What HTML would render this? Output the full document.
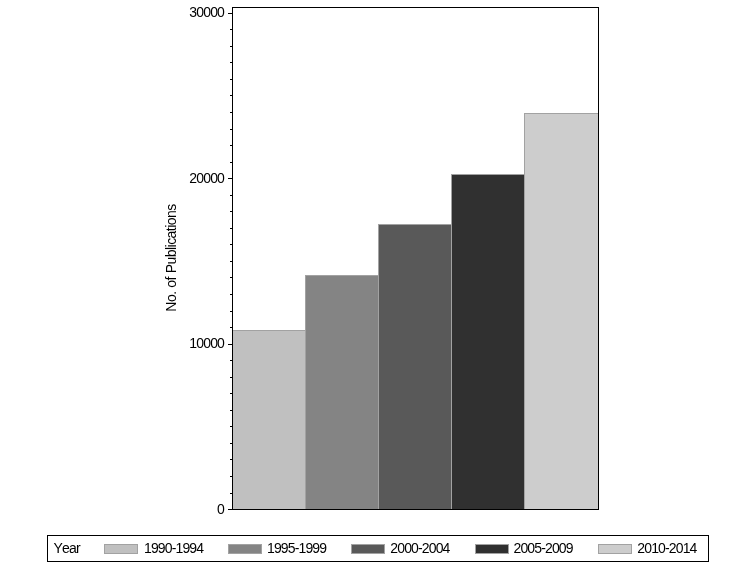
<!DOCTYPE html>
<html lang="en">
<head>
<meta charset="utf-8">
<title>No. of Publications by Year</title>
<style>
html,body{margin:0;padding:0;background:#fff;}
body{width:756px;height:567px;position:relative;overflow:hidden;font-family:"Liberation Sans",Arial,sans-serif;font-size:14px;letter-spacing:-0.86px;font-kerning:none;color:#000;}
div{position:absolute;box-sizing:border-box;}
.frame{left:232px;top:7px;width:367px;height:503px;border:1px solid #000;}
.t{height:1px;background:#000;}
.yl{left:150px;width:74px;text-align:right;height:16px;line-height:16px;white-space:nowrap;}
.bar{border:1px solid #a2a2a2;}
.ylab{letter-spacing:-0.55px;word-spacing:0.5px;left:71px;top:250px;width:200px;height:16px;line-height:16px;text-align:center;transform:rotate(-90deg);transform-origin:50% 50%;white-space:nowrap;}
.legend{left:47px;top:535px;width:662px;height:27px;border:1px solid #000;}
.sw{top:544px;width:34px;height:10px;border:1px solid #a2a2a2;}
.lt{top:540px;height:16px;line-height:16px;white-space:nowrap;}
</style>
</head>
<body>
<div class="bar" style="left:232px;top:330px;width:74px;height:180px;background:#c0c0c0"></div><div class="bar" style="left:305px;top:275px;width:74px;height:235px;background:#848484"></div><div class="bar" style="left:378px;top:224px;width:74px;height:286px;background:#595959"></div><div class="bar" style="left:451px;top:174px;width:74px;height:336px;background:#303030"></div><div class="bar" style="left:524px;top:113px;width:75px;height:397px;background:#cdcdcd"></div>
<div class="frame"></div>
<div class="t" style="left:228px;top:509px;width:4px"></div><div class="t" style="left:230px;top:493px;width:2px"></div><div class="t" style="left:230px;top:476px;width:2px"></div><div class="t" style="left:230px;top:459px;width:2px"></div><div class="t" style="left:230px;top:443px;width:2px"></div><div class="t" style="left:230px;top:426px;width:2px"></div><div class="t" style="left:230px;top:410px;width:2px"></div><div class="t" style="left:230px;top:393px;width:2px"></div><div class="t" style="left:230px;top:377px;width:2px"></div><div class="t" style="left:230px;top:360px;width:2px"></div><div class="t" style="left:228px;top:344px;width:4px"></div><div class="t" style="left:230px;top:327px;width:2px"></div><div class="t" style="left:230px;top:311px;width:2px"></div><div class="t" style="left:230px;top:294px;width:2px"></div><div class="t" style="left:230px;top:277px;width:2px"></div><div class="t" style="left:230px;top:261px;width:2px"></div><div class="t" style="left:230px;top:244px;width:2px"></div><div class="t" style="left:230px;top:228px;width:2px"></div><div class="t" style="left:230px;top:211px;width:2px"></div><div class="t" style="left:230px;top:195px;width:2px"></div><div class="t" style="left:228px;top:178px;width:4px"></div><div class="t" style="left:230px;top:162px;width:2px"></div><div class="t" style="left:230px;top:145px;width:2px"></div><div class="t" style="left:230px;top:129px;width:2px"></div><div class="t" style="left:230px;top:112px;width:2px"></div><div class="t" style="left:230px;top:95px;width:2px"></div><div class="t" style="left:230px;top:79px;width:2px"></div><div class="t" style="left:230px;top:62px;width:2px"></div><div class="t" style="left:230px;top:46px;width:2px"></div><div class="t" style="left:230px;top:29px;width:2px"></div><div class="t" style="left:228px;top:13px;width:4px"></div>
<div class="yl" style="top:501px">0</div><div class="yl" style="top:335px">10000</div><div class="yl" style="top:170px">20000</div><div class="yl" style="top:4px">30000</div>
<div class="ylab">No. of Publications</div>
<div class="legend"></div>
<div class="lt" style="left:53.6px">Year</div>
<div class="sw" style="left:104px;background:#c0c0c0"></div><div class="lt" style="left:144px">1990-1994</div><div class="sw" style="left:228px;background:#848484"></div><div class="lt" style="left:267px">1995-1999</div><div class="sw" style="left:351px;background:#595959"></div><div class="lt" style="left:390.3px">2000-2004</div><div class="sw" style="left:475px;background:#303030"></div><div class="lt" style="left:513.5px">2005-2009</div><div class="sw" style="left:598px;background:#cdcdcd"></div><div class="lt" style="left:637.3px">2010-2014</div>
</body>
</html>
